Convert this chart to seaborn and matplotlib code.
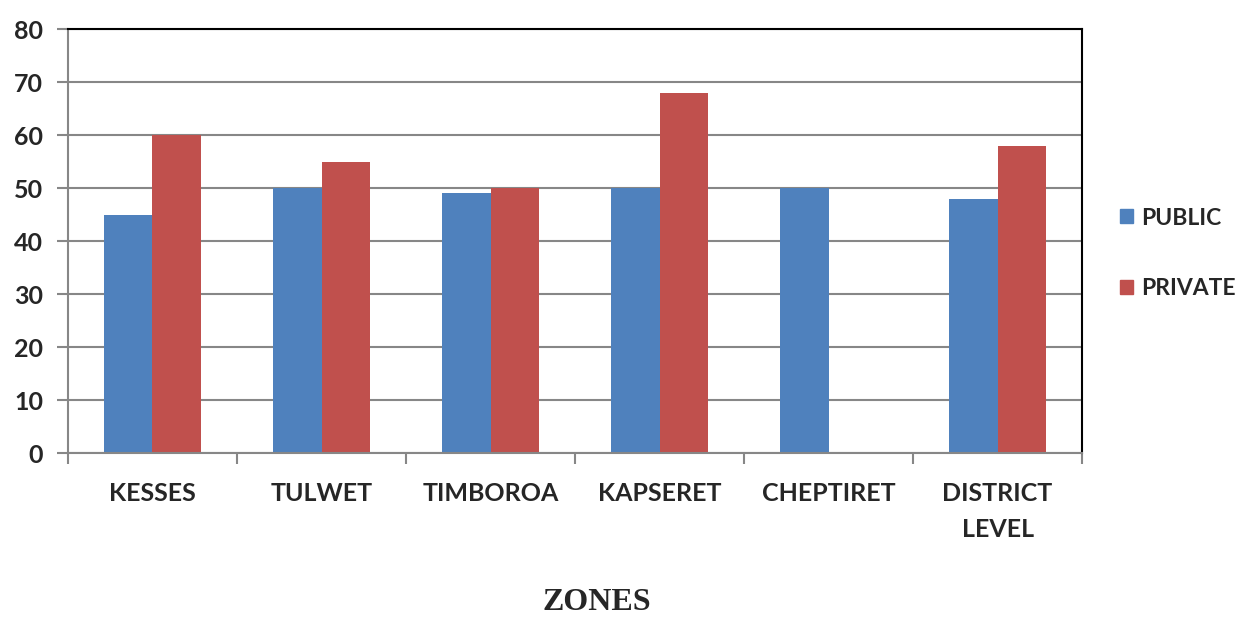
import matplotlib
matplotlib.use("Agg")
import matplotlib.pyplot as plt
import seaborn as sns
import pandas as pd
import numpy as np

zones = ["KESSES", "TULWET", "TIMBOROA", "KAPSERET", "CHEPTIRET", "DISTRICT\nLEVEL"]
public = [45, 50, 49, 50, 50, 48]
private = [60, 55, 50, 68, 0, 58]
series = ["PUBLIC", "PRIVATE"]
colors = ["#4F81BD", "#C0504D"]
yticks = [0, 10, 20, 30, 40, 50, 60, 70, 80]

df = pd.DataFrame({
    "zone": zones * 2,
    "value": public + private,
    "sector": [series[0]] * len(zones) + [series[1]] * len(zones),
})

sns.set_theme(style="white")
plt.rcParams["font.family"] = ["Lato", "DejaVu Sans"]

fig = plt.figure(figsize=(12.36, 6.19), dpi=100)
ax = fig.add_axes([0.055, 0.268, 0.8205, 0.685])

sns.barplot(data=df, x="zone", y="value", hue="sector", order=zones,
            hue_order=series, palette=colors, width=0.57, saturation=1,
            edgecolor="none", linewidth=0, ax=ax, legend=False)

ax.set_ylim(0, 80)
ax.set_xlim(-0.5, len(zones) - 0.5)
ax.set_yticks(yticks)
ax.set_yticklabels([str(v) for v in yticks], fontsize=18, fontweight="bold")
ax.yaxis.grid(True, color="#878787", linewidth=1.5)
ax.set_axisbelow(True)

ax.set_xticks(np.arange(len(zones)))
ax.set_xticklabels(zones, fontsize=18, fontweight="bold", linespacing=1.65)
ax.tick_params(axis="x", which="major", length=0, pad=21)
ax.set_xticks(np.arange(len(zones) + 1) - 0.5, minor=True)
ax.tick_params(axis="x", which="minor", length=8, width=1.5, color="#878787",
               direction="out", bottom=True)
ax.tick_params(axis="y", length=8, width=1.5, color="#878787", direction="out",
               left=True, pad=10)

for side in ["left", "bottom"]:
    ax.spines[side].set_color("#878787")
    ax.spines[side].set_linewidth(1.5)
for side in ["top", "right"]:
    ax.spines[side].set_color("black")
    ax.spines[side].set_linewidth(1.5)

ax.set_xlabel("")
ax.set_ylabel("")

fig.text(0.483, 0.014, "ZONES", ha="center", va="baseline", fontsize=23,
         fontweight="bold", family=["Liberation Serif", "DejaVu Serif"])

handles = [plt.Rectangle((0, 0), 1, 1, color=c) for c in colors]
fig.legend(handles, series, loc="center left", bbox_to_anchor=(0.906, 0.591),
           frameon=False, prop={"weight": "bold", "size": 16.5},
           borderpad=0, borderaxespad=0,
           handlelength=0.57, handleheight=0.57, handletextpad=0.35,
           labelspacing=2.15)

fig.savefig("out.png", dpi=100)
